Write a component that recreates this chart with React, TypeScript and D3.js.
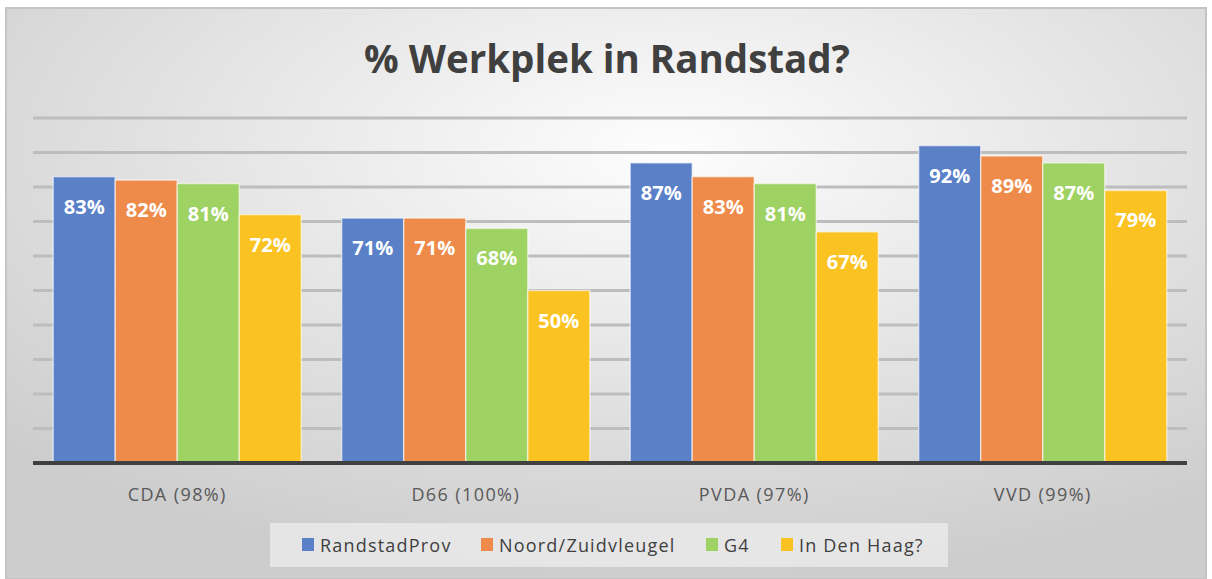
import React, { useEffect, useRef } from 'react';
import * as d3 from 'd3';

const categories = ['CDA (98%)', 'D66 (100%)', 'PVDA (97%)', 'VVD (99%)'];
const seriesNames = ['RandstadProv', 'Noord/Zuidvleugel', 'G4', 'In Den Haag?'];
const randstadProv = [0.83, 0.71, 0.87, 0.92];
const noordZuid = [0.82, 0.71, 0.83, 0.89];
const g4 = [0.81, 0.68, 0.81, 0.87];
const inDenHaag = [0.72, 0.5, 0.67, 0.79];
const yTicks = [0.1, 0.2, 0.3, 0.4, 0.5, 0.6, 0.7, 0.8, 0.9, 1.0];
const colors = ['#5a80c8', '#ee8b4a', '#9ed263', '#fbc321'];

const W = 1212;
const H = 579;

export default function App() {
  const ref = useRef<SVGSVGElement>(null);

  useEffect(() => {
    const svg = d3.select(ref.current);
    svg.selectAll('*').remove();
    const series = [randstadProv, noordZuid, g4, inDenHaag];
    const font = 'Open Sans, sans-serif';

    const defs = svg.append('defs');
    const grad = defs.append('radialGradient')
      .attr('id', 'bg').attr('cx', '55%').attr('cy', '25%').attr('r', '75%');
    grad.append('stop').attr('offset', '0%').attr('stop-color', '#fdfdfd');
    grad.append('stop').attr('offset', '100%').attr('stop-color', '#cdcdcd');

    svg.append('rect').attr('width', W).attr('height', H).attr('fill', '#ffffff');
    svg.append('rect')
      .attr('x', 6).attr('y', 8).attr('width', W - 12).attr('height', H - 8)
      .attr('fill', 'url(#bg)').attr('stroke', '#c4c4c4').attr('stroke-width', 2);

    const left = 33, right = 1187, top = 118, bottom = 463;

    const x0 = d3.scaleBand().domain(categories).range([left, right]).paddingInner(0.14).paddingOuter(0.07);
    const x1 = d3.scaleBand().domain(seriesNames).range([0, x0.bandwidth()]).padding(0);
    const y = d3.scaleLinear().domain([0, 1]).range([bottom, top]);

    svg.append('text')
      .attr('x', W / 2 + 1).attr('y', 73)
      .attr('text-anchor', 'middle')
      .attr('font-family', font)
      .attr('font-weight', 700).attr('font-size', 38.5)
      .attr('fill', '#404040')
      .text('% Werkplek in Randstad?');

    svg.append('g').selectAll('line').data(yTicks).enter().append('line')
      .attr('x1', left).attr('x2', right)
      .attr('y1', d => y(d)).attr('y2', d => y(d))
      .attr('stroke', '#bdbdbd').attr('stroke-width', 3);

    const groups = svg.append('g').selectAll('g').data(categories).enter().append('g')
      .attr('transform', d => `translate(${x0(d)},0)`);

    groups.each(function (cat, ci) {
      const g = d3.select(this);
      seriesNames.forEach((s, si) => {
        const v = series[si][ci];
        const bx = x1(s) as number;
        g.append('rect')
          .attr('x', bx).attr('y', y(v))
          .attr('width', x1.bandwidth()).attr('height', y(0) - y(v))
          .attr('fill', colors[si])
          .attr('stroke', 'rgba(255,255,255,0.55)').attr('stroke-width', 1.5);
        g.append('text')
          .attr('x', bx + x1.bandwidth() / 2).attr('y', y(v) + 37)
          .attr('text-anchor', 'middle')
          .attr('font-family', font)
          .attr('font-weight', 700).attr('font-size', 20)
          .attr('fill', '#ffffff')
          .text(Math.round(v * 100) + '%');
      });
    });

    svg.append('line')
      .attr('x1', left).attr('x2', right).attr('y1', bottom).attr('y2', bottom)
      .attr('stroke', '#404040').attr('stroke-width', 4);

    svg.append('g').selectAll('text').data(categories).enter().append('text')
      .attr('x', d => (x0(d) as number) + x0.bandwidth() / 2)
      .attr('y', 501)
      .attr('text-anchor', 'middle')
      .attr('font-family', font)
      .attr('font-size', 18).attr('letter-spacing', 1.4).attr('fill', '#595959')
      .text(d => d);

    // legend
    svg.append('rect')
      .attr('x', 270).attr('y', 523).attr('width', 678).attr('height', 44)
      .attr('fill', '#ebebeb').attr('opacity', 0.8);
    const legendX = [302, 481, 706, 781];
    const lg = svg.append('g').selectAll('g').data(seriesNames).enter().append('g')
      .attr('transform', (d, i) => `translate(${legendX[i]},0)`);
    lg.append('rect').attr('x', 0).attr('y', 538).attr('width', 12).attr('height', 13)
      .attr('fill', (d, i) => colors[i]);
    lg.append('text').attr('x', 18).attr('y', 552)
      .attr('font-family', font)
      .attr('font-size', 18).attr('letter-spacing', 1.2).attr('fill', '#404040')
      .text(d => d);
  }, []);

  return (
    <svg ref={ref} width={W} height={H} style={{ position: 'absolute', left: 0, top: 0 }} />
  );
}
